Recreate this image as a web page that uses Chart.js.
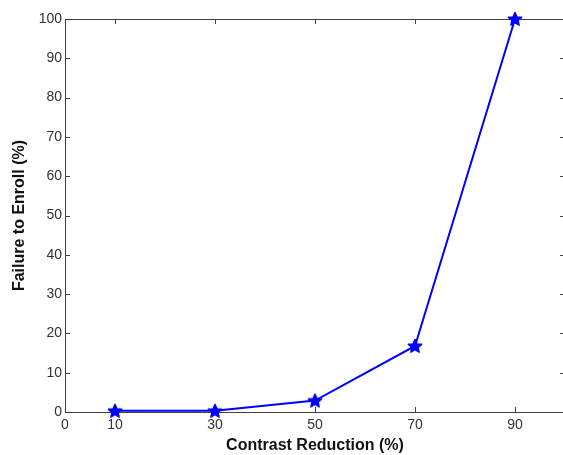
<!DOCTYPE html>
<html>
<head>
<meta charset="utf-8">
<script src="https://cdn.jsdelivr.net/npm/chart.js@4/dist/chart.umd.min.js"></script>
<style>
  html, body { margin: 0; padding: 0; background: #fff; overflow: hidden; }
</style>
</head>
<body>
<canvas id="chartEnroll" width="570" height="455"></canvas>
<script>
// data
var contrastReduction = [10, 30, 50, 70, 90];
var failureToEnroll = [0.3, 0.3, 2.9, 16.8, 100];
var xTickValues = [0, 10, 30, 50, 70, 90];
var yTickValues = [0, 10, 20, 30, 40, 50, 60, 70, 80, 90, 100];

// pentagram marker like matlab 'p'
function makeStar() {
    var c = document.createElement('canvas');
    c.width = 16; c.height = 16;
    var g = c.getContext('2d');
    g.beginPath();
    for (var i = 0; i < 10; i++) {
        var r = (i % 2 === 0) ? 7 : 3.2;
        var ang = -Math.PI / 2 + i * Math.PI / 5;
        var px = 8 + r * Math.cos(ang), py = 8.5 + r * Math.sin(ang);
        if (i === 0) g.moveTo(px, py); else g.lineTo(px, py);
    }
    g.closePath();
    g.fillStyle = '#0000ff';
    g.strokeStyle = '#0000ff';
    g.lineWidth = 1.5;
    g.lineJoin = 'round';
    g.fill();
    g.stroke();
    return c;
}

// matlab style box with inward ticks
var boxTicks = {
    id: 'boxTicks',
    beforeDatasetsDraw: function(chart) {
        var ctx = chart.ctx, a = chart.chartArea;
        var xs = chart.scales.x, ys = chart.scales.y;
        ctx.save();
        ctx.strokeStyle = '#404040';
        ctx.lineWidth = 1;
        ctx.strokeRect(a.left + 0.5, a.top + 0.5, a.right - a.left, a.bottom - a.top);
        ctx.beginPath();
        xTickValues.forEach(function(v) {
            var px = Math.round(xs.getPixelForValue(v)) + 0.5;
            ctx.moveTo(px, a.bottom); ctx.lineTo(px, a.bottom - 5);
            ctx.moveTo(px, a.top); ctx.lineTo(px, a.top + 5);
        });
        yTickValues.forEach(function(v) {
            var py = Math.round(ys.getPixelForValue(v)) + 0.5;
            ctx.moveTo(a.left, py); ctx.lineTo(a.left + 5, py);
            ctx.moveTo(a.right, py); ctx.lineTo(a.right - 5, py);
        });
        ctx.stroke();
        ctx.restore();
    }
};

var ctx = document.getElementById('chartEnroll');
var myChart = new Chart(ctx, {
    type: 'line',
    data: {
        datasets: [{
            data: contrastReduction.map(function(x, i) { return {x: x, y: failureToEnroll[i]}; }),
            borderColor: '#0000ff',
            backgroundColor: '#0000ff',
            borderWidth: 2,
            pointStyle: makeStar(),
            pointRadius: 8,
            tension: 0,
            clip: false
        }]
    },
    options: {
        responsive: false,
        animation: false,
        layout: { autoPadding: false, padding: { top: 19, right: 5, left: 0, bottom: 0 } },
        plugins: {
            legend: { display: false },
            tooltip: { enabled: false }
        },
        scales: {
            x: {
                type: 'linear',
                min: 0,
                max: 100,
                afterBuildTicks: function(scale) {
                    scale.ticks = xTickValues.map(function(v) { return {value: v}; });
                },
                afterFit: function(scale) {
                    scale.height = 43;
                    scale.paddingLeft = 0;
                    scale.paddingRight = 0;
                },
                grid: { display: false, drawTicks: false },
                border: { display: false },
                ticks: {
                    padding: 5,
                    color: '#333',
                    font: { family: 'Arial, "Liberation Sans"', size: 14 }
                },
                title: {
                    display: true,
                    text: 'Contrast Reduction (%)',
                    color: '#111',
                    padding: { top: 0, bottom: 0 },
                    font: { family: 'Arial, "Liberation Sans"', size: 16, weight: 'bold' }
                }
            },
            y: {
                min: 0,
                max: 100,
                afterBuildTicks: function(scale) {
                    scale.ticks = yTickValues.map(function(v) { return {value: v}; });
                },
                afterFit: function(scale) {
                    scale.width = 65;
                    scale.paddingTop = 0;
                    scale.paddingBottom = 0;
                },
                grid: { display: false, drawTicks: false },
                border: { display: false },
                ticks: {
                    padding: 3,
                    color: '#333',
                    font: { family: 'Arial, "Liberation Sans"', size: 14 }
                },
                title: {
                    display: true,
                    text: 'Failure to Enroll (%)',
                    color: '#111',
                    padding: { top: 10, bottom: 0 },
                    font: { family: 'Arial, "Liberation Sans"', size: 16, weight: 'bold' }
                }
            }
        }
    },
    plugins: [boxTicks]
});
</script>
</body>
</html>
